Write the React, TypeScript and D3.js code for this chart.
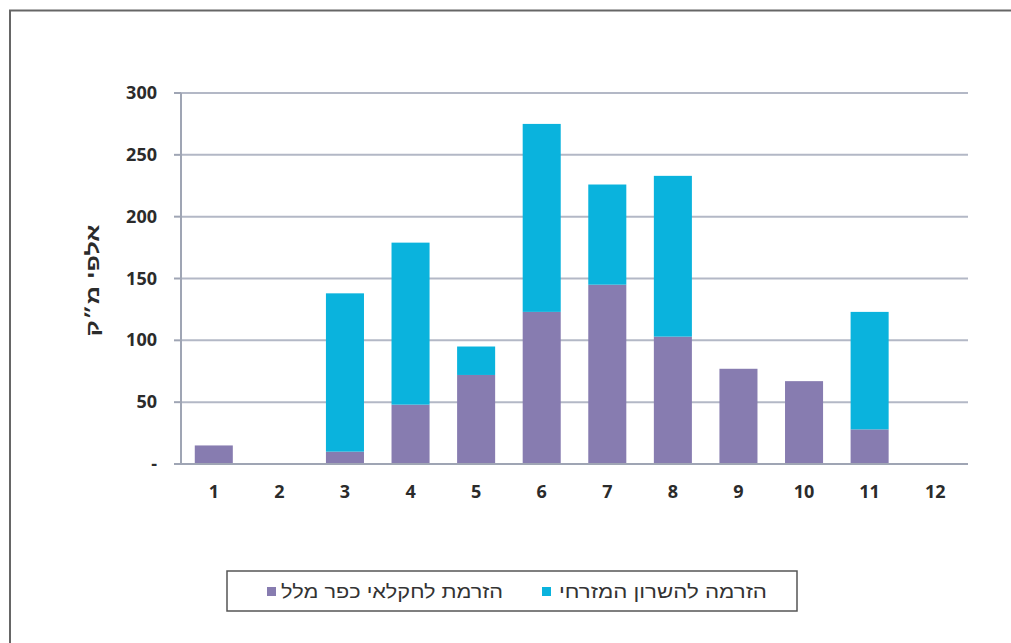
import { scaleBand, scaleLinear, stack } from 'd3';

const months = ['1', '2', '3', '4', '5', '6', '7', '8', '9', '10', '11', '12'];
const kfarMalal = [15, 0, 10, 48, 72, 123, 145, 103, 77, 67, 28, 0];
const eastSharon = [0, 0, 128, 131, 23, 152, 81, 130, 0, 0, 95, 0];
const yTicks = [0, 50, 100, 150, 200, 250, 300];

const seriesNames = ['הזרמת לחקלאי כפר מלל', 'הזרמה להשרון המזרחי'];
const seriesColors = ['#877cb0', '#0ab3dd'];
const yTitle = 'אלפי מ״ק';

export default function App() {
  const width = 1011;
  const height = 643;
  const margin = { top: 93, right: 43, bottom: 179, left: 181 };
  const innerWidth = width - margin.left - margin.right;
  const innerHeight = height - margin.top - margin.bottom;

  const rows = months.map((m, i) => ({ m, a: kfarMalal[i], b: eastSharon[i] }));
  const stacked = stack<{ m: string; a: number; b: number }>().keys(['a', 'b'])(rows);

  const x = scaleBand<string>().domain(months).range([0, innerWidth]).paddingInner(0.42).paddingOuter(0.21);
  const y = scaleLinear().domain([0, 300]).range([innerHeight, 0]);

  const font = "'Open Sans', 'DejaVu Sans', sans-serif";
  const hebFont = "'Liberation Sans', 'DejaVu Sans', sans-serif";

  return (
    <svg width={width} height={height} style={{ position: 'absolute', left: 0, top: 0, background: '#fff' }}>
      <rect x={10} y={10.5} width={width + 20} height={height + 20} fill="none" stroke="#666" strokeWidth={2} />
      <g transform={`translate(${margin.left}, ${margin.top})`}>
        {yTicks.map((t) => (
          <g key={t}>
            {t > 0 && (
              <line x1={0} x2={innerWidth} y1={y(t)} y2={y(t)} stroke="#b3b8c6" strokeWidth={2} />
            )}
            <line x1={-7} x2={0} y1={y(t)} y2={y(t)} stroke="#9fa5b4" strokeWidth={2} />
            <text
              x={-24}
              y={y(t) + 6}
              textAnchor="end"
              fontFamily={font}
              fontWeight={700}
              fontSize={18}
              fill="#2b2b2b"
            >
              {t === 0 ? '-' : t}
            </text>
          </g>
        ))}

        {stacked.map((layer, li) => (
          <g key={li}>
            {layer.map((d, i) =>
              d[1] - d[0] > 0 ? (
                <rect
                  key={i}
                  x={x(d.data.m)}
                  y={y(d[1])}
                  width={x.bandwidth()}
                  height={y(d[0]) - y(d[1])}
                  fill={seriesColors[li]}
                />
              ) : null,
            )}
          </g>
        ))}

        <line x1={0} x2={innerWidth} y1={innerHeight} y2={innerHeight} stroke="#9fa5b4" strokeWidth={2} />
        <line x1={0} x2={0} y1={0} y2={innerHeight} stroke="#9fa5b4" strokeWidth={2} />

        {months.map((m) => (
          <text
            key={m}
            x={(x(m) || 0) + x.bandwidth() / 2}
            y={innerHeight + 34}
            textAnchor="middle"
            fontFamily={font}
            fontWeight={700}
            fontSize={18}
            fill="#2b2b2b"
          >
            {m}
          </text>
        ))}

        <text
          transform={`translate(${-82}, ${innerHeight / 2 + 2}) rotate(-90)`}
          textAnchor="middle"
          fontFamily={hebFont}
          fontWeight={700}
          fontSize={18}
          fill="#2b2b2b"
          textLength={112}
          lengthAdjust="spacingAndGlyphs"
        >
          {yTitle}
        </text>
      </g>

      <g>
        <rect x={227} y={571} width={570} height={40} fill="#fff" stroke="#555" strokeWidth={1.5} />
        <rect x={267} y={587} width={9} height={9} fill={seriesColors[0]} />
        <text
          x={503}
          y={598}
          textAnchor="end"
          fontFamily={hebFont}
          fontSize={19}
          fill="#333"
          textLength={222}
          lengthAdjust="spacingAndGlyphs"
        >
          {seriesNames[0]}
        </text>
        <rect x={542} y={587} width={9} height={9} fill={seriesColors[1]} />
        <text
          x={767}
          y={598}
          textAnchor="end"
          fontFamily={hebFont}
          fontSize={19}
          fill="#333"
          textLength={208}
          lengthAdjust="spacingAndGlyphs"
        >
          {seriesNames[1]}
        </text>
      </g>
    </svg>
  );
}
